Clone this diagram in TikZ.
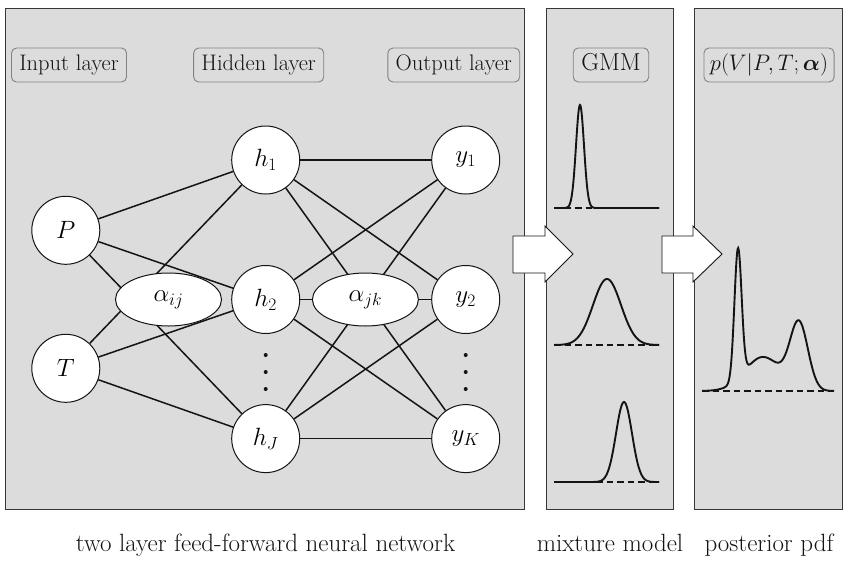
\RequirePackage{fix-cm}
\documentclass[tikz,border=0pt]{standalone}
\usepackage{amsmath}
\usetikzlibrary{shapes.geometric}
\definecolor{panelgray}{RGB}{220,220,220}
\definecolor{panelborder}{RGB}{55,55,55}
\definecolor{tagborder}{RGB}{130,130,130}
\definecolor{inkcol}{RGB}{20,20,20}
\begin{document}
\begin{tikzpicture}[x=1pt,y=-1pt,
  font=\fontsize{22.5}{27}\selectfont,
  panel/.style={draw=panelborder, fill=panelgray, line width=1pt},
  tag/.style={draw=tagborder, rounded corners=5pt, line width=0.9pt,
    minimum height=34pt, inner xsep=7.8pt, text height=16pt, text depth=5pt, text=inkcol},
  neuron/.style={circle, draw=inkcol, fill=white, minimum size=68pt, inner sep=0pt,
    line width=1pt, font=\fontsize{25}{30}\selectfont},
  weight/.style={ellipse, draw=inkcol, fill=white, minimum width=106pt, minimum height=53pt,
    inner sep=0pt, line width=1pt, font=\fontsize{25}{30}\selectfont},
  edge/.style={draw=inkcol, line width=1.5pt},
  curve/.style={draw=inkcol, line width=1.9pt},
  baseline/.style={draw=inkcol, line width=1.5pt, dash pattern=on 6.5pt off 4pt},
  blockarrow/.style={draw=inkcol, fill=white, line width=0.9pt},
  caption/.style={anchor=base, text=inkcol, font=\fontsize{25}{30}\selectfont},
  dotmark/.style={fill=inkcol}]

\useasboundingbox (0,0) rectangle (850,560);

% panels
\draw[panel] (5,8) rectangle (524,509);
\draw[panel] (546,8) rectangle (673,509);
\draw[panel] (694,8) rectangle (842,509);

% layer tags
\node[tag] (tin)  at (69,65)    {Input layer};
\node[tag] (thid) at (258.7,65) {Hidden layer};
\node[tag] (tout) at (453.8,65) {Output layer};
\node[tag, font=\fontsize{24.5}{29}\selectfont, inner xsep=8pt] (tgmm) at (611,65) {GMM};
\node[tag, font=\fontsize{22.5}{27}\selectfont, inner xsep=6pt] (tpdf) at (769,65) {$p(V|P,T;\boldsymbol{\alpha})$};

% neurons
\node[neuron] (P)  at (65.8,230.3)  {$P$};
\node[neuron] (T)  at (65.8,368.3)  {$T$};
\node[neuron] (h1) at (265.7,160)   {$h_1$};
\node[neuron] (h2) at (265.7,299.5) {$h_2$};
\node[neuron] (hJ) at (265.7,438.6) {$h_J$};
\node[neuron] (y1) at (465.7,160)   {$y_1$};
\node[neuron] (y2) at (465.7,299.5) {$y_2$};
\node[neuron] (yK) at (465.7,438.6) {$y_K$};

% connections
\foreach \i in {P,T}{
  \foreach \j in {h1,h2,hJ}{
    \draw[edge] (\i) -- (\j);
  }
}
\foreach \j in {h1,h2,hJ}{
  \foreach \k in {y1,y2,yK}{
    \draw[edge] (\j) -- (\k);
  }
}

% weight labels
\node[weight] (aij) at (168.5,299.5) {$\alpha_{ij}$};
\node[weight] (ajk) at (365.4,299.5) {$\alpha_{jk}$};

% vertical dots
\foreach \yy in {355,372,389}{
  \fill[dotmark] (265.7,\yy) circle (2pt);
  \fill[dotmark] (465.7,\yy) circle (2pt);
}

% block arrows
\draw[blockarrow] (513,236) -- (545,236) -- (545,226) -- (573,254) -- (545,282) -- (545,273) -- (513,273) -- cycle;
\draw[blockarrow] (662,236) -- (693,236) -- (693,226) -- (722,254) -- (693,282) -- (693,273) -- (662,273) -- cycle;

% mixture components
\draw[baseline] (554,208) -- (659,208);
\draw[curve] plot[domain=554:659, samples=220, smooth]
  (\x, {208 - 103*exp(max(-9, -0.5*((\x-580)/4)^2))});
\draw[baseline] (554,345) -- (659,345);
\draw[curve] plot[domain=554:659, samples=150, smooth]
  (\x, {345 - 66*exp(max(-9, -0.5*((\x-607)/14)^2))});
\draw[baseline] (554,482) -- (659,482);
\draw[curve] plot[domain=554:659, samples=180, smooth]
  (\x, {482 - 80*exp(max(-9, -0.5*((\x-624)/8)^2))});

% posterior
\draw[baseline] (702,391) -- (834,391);
\draw[curve] plot[domain=702:834, samples=260, smooth]
  (\x, {391 - 130*exp(max(-9, -0.5*((\x-738)/3.6)^2))
             - 34*exp(max(-9, -0.5*((\x-763)/18)^2))
             - 66*exp(max(-9, -0.5*((\x-799)/9)^2))});

% captions
\node[caption] (c1) at (265.5,551) {two layer feed-forward neural network};
\node[caption] (c2) at (610,551) {mixture model};
\node[caption] (c3) at (769,551) {posterior pdf};
\end{tikzpicture}
\end{document}
